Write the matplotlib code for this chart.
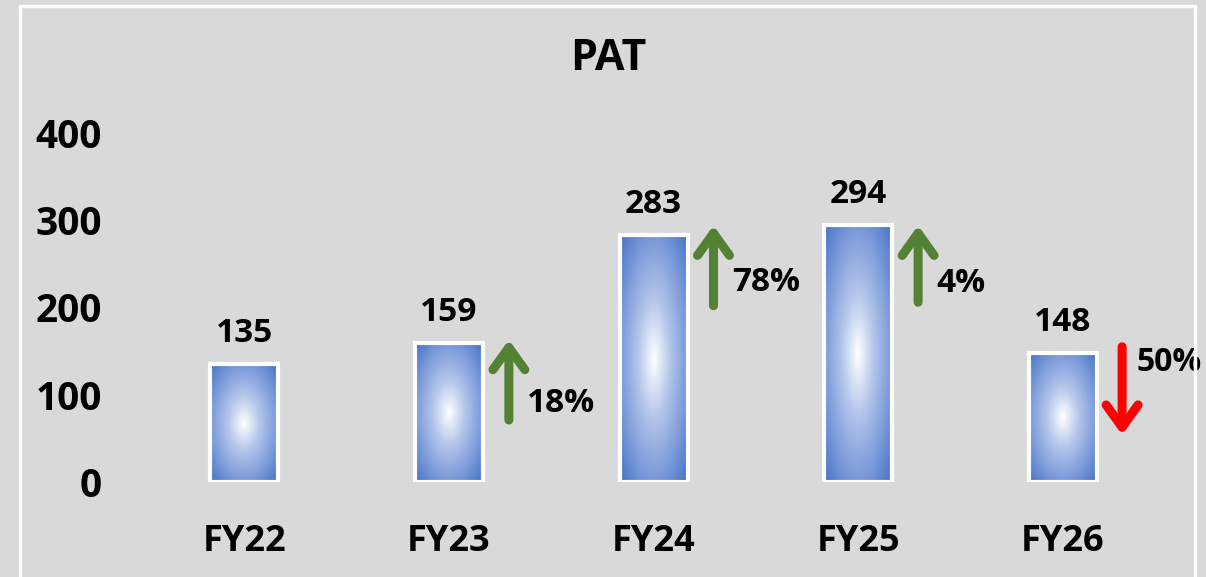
import numpy as np
import matplotlib
matplotlib.use('Agg')
import matplotlib.pyplot as plt
from matplotlib.patches import Rectangle
from matplotlib.colors import LinearSegmentedColormap

plt.rcParams['font.family'] = ['Open Sans', 'DejaVu Sans']

# данные
years = ['FY22', 'FY23', 'FY24', 'FY25', 'FY26']
pat = [135, 159, 283, 294, 148]
growth = ['', '18%', '78%', '4%', '50%']
yticks = [0, 100, 200, 300, 400]

bg = '#d9d9d9'
fig = plt.figure(figsize=(12.06, 5.77), dpi=100, facecolor=bg)
ax = fig.add_axes([142 / 1206, 95 / 577, 1064 / 1206, 349 / 577])
ax.set_facecolor(bg)

# белая рамка
fig.patches.append(Rectangle((20 / 1206, -0.01), 1175 / 1206, 574 / 577 + 0.005,
                             transform=fig.transFigure, fill=False,
                             edgecolor='white', linewidth=2.5, zorder=0))

cmap = LinearSegmentedColormap.from_list('g', ['#ffffff', '#b4c6ea', '#7e9cdb', '#4472c4'])
bw = 0.332

# градиент по столбцам
gy, gx = np.mgrid[-1:1:200j, -1:1:120j]
r = np.sqrt(gx ** 2 + gy ** 2) / np.sqrt(2)
for i, v in enumerate(pat):
    bar = ax.bar(i, v, width=bw, facecolor='none', edgecolor='white', linewidth=3, zorder=3)[0]
    im = ax.imshow(r, cmap=cmap, vmin=0, vmax=1, aspect='auto',
                   extent=[i - bw / 2, i + bw / 2, 0, v], zorder=2)
    im.set_clip_path(bar)
    ax.annotate(str(v), (i, v), xytext=(0, 22), textcoords='offset points',
                ha='center', va='center', fontsize=24, fontweight='bold')

# стрелки роста
arrow_x = [0.293, 0.293, 0.293, 0.29]
arrow_from = [71, 202, 206, 155]
arrow_to = [163, 294, 294, 54]
label_y = [90, 229, 227, 137]
label_dx = [0.09, 0.09, 0.09, 0.072]
for k in range(1, 5):
    up = arrow_to[k - 1] > arrow_from[k - 1]
    col = '#548235' if up else '#ff0000'
    x = k + arrow_x[k - 1]
    ax.annotate('', xy=(x, arrow_to[k - 1]), xytext=(x, arrow_from[k - 1]),
                arrowprops=dict(arrowstyle='->, head_length=1.6, head_width=1.15',
                                color=col, lw=6.5, capstyle='round', joinstyle='round',
                                shrinkA=0, shrinkB=0))
    ax.text(x + label_dx[k - 1], label_y[k - 1], growth[k], ha='left', va='center',
            fontsize=24 if k < 4 else 23, fontweight='bold')

ax.set_xlim(-0.5, 4.7)
ax.set_ylim(0, 400)
ax.set_yticks(yticks)
ax.set_xticks(range(len(years)))
ax.set_xticklabels(years)
ax.tick_params(axis='y', length=0, pad=29, labelsize=28)
ax.tick_params(axis='x', length=0, pad=30, labelsize=26)
for t in ax.get_xticklabels() + ax.get_yticklabels():
    t.set_fontweight('bold')
for s in ax.spines.values():
    s.set_visible(False)

fig.text(608 / 1206, 1 - 59 / 577, 'PAT', ha='center', va='center',
         fontsize=31, fontweight='bold')

fig.savefig('out.png', dpi=100, facecolor=bg)
